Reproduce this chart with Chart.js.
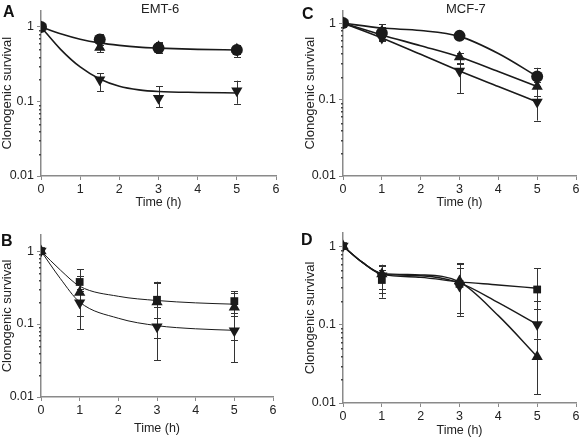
<!DOCTYPE html>
<html>
<head>
<meta charset="utf-8">
<script src="https://cdn.jsdelivr.net/npm/chart.js@4.4.1/dist/chart.umd.min.js"></script>
<style>
  body { margin: 0; background: #fff; font-family: "Liberation Sans", Arial, sans-serif; }
  #wrap { position: relative; width: 583px; height: 438px; }
  canvas { position: absolute; }
  .lbl { position: absolute; font-weight: bold; font-size: 16px; color: #111; }
  .ttl { position: absolute; font-size: 13px; color: #222; }
</style>
</head>
<body>
<div id="wrap">
  <canvas id="chartA" width="290" height="210" style="left:0;top:0"></canvas>
  <canvas id="chartC" width="293" height="210" style="left:290px;top:0"></canvas>
  <canvas id="chartB" width="290" height="223" style="left:0;top:215px"></canvas>
  <canvas id="chartD" width="293" height="223" style="left:290px;top:215px"></canvas>
  <div class="lbl" style="left:3px;top:3px">A</div>
  <div class="lbl" style="left:302px;top:5px">C</div>
  <div class="lbl" style="left:1px;top:232px">B</div>
  <div class="lbl" style="left:301px;top:231px">D</div>
  <div class="ttl" style="left:141px;top:1px">EMT-6</div>
  <div class="ttl" style="left:446px;top:1px">MCF-7</div>
</div>
<script>
// ---- tick labels ----
const xTicks = [0, 1, 2, 3, 4, 5, 6];
const yTickLabels = [0.01, 0.1, 1];

// ---- panel A: EMT-6 ----
const hoursA = [0, 1.5, 3, 5];
const emtCircle = [1.0, 0.68, 0.52, 0.49];
const emtCircleLo = [null, 0.57, 0.44, 0.39];
const emtCircleHi = [null, 0.80, 0.63, 0.57];
const emtTriangle = [1.0, 0.53, 0.54, 0.50];
const emtTriangleLo = [null, 0.46, 0.47, 0.43];
const emtTriangleHi = [null, 0.62, 0.60, 0.56];
const emtInverted = [1.0, 0.196, 0.11, 0.139];
const emtInvertedLo = [null, 0.138, 0.083, 0.093];
const emtInvertedHi = [null, 0.24, 0.16, 0.19];
const fitHoursA = [0, 0.5, 1, 1.5, 2, 2.5, 3, 4, 5];
const emtFitUpper = [1, 0.81, 0.685, 0.61, 0.565, 0.535, 0.52, 0.50, 0.49];
const emtFitLower = [1, 0.50, 0.29, 0.20, 0.16, 0.143, 0.136, 0.132, 0.13];

// ---- panel C: MCF-7 ----
const hoursC = [0, 1, 3, 5];
const mcfCircle = [1.0, 0.74, 0.68, 0.20];
const mcfCircleLo = [null, 0.60, 0.63, 0.15];
const mcfCircleHi = [null, 0.97, 0.74, 0.26];
const mcfTriangle = [1.0, 0.78, 0.36, 0.148];
const mcfTriangleLo = [null, 0.65, 0.30, 0.11];
const mcfTriangleHi = [null, 0.90, 0.41, 0.17];
const mcfInverted = [1.0, 0.64, 0.236, 0.093];
const mcfInvertedLo = [null, 0.58, 0.12, 0.053];
const mcfInvertedHi = [null, 0.70, 0.29, 0.11];
const fitHoursC = [0, 1, 2, 3, 4, 5];
const mcfFitCircle = [1, 0.86, 0.80, 0.67, 0.40, 0.20];
const mcfFitTriangle = [1, 0.70, 0.505, 0.36, 0.233, 0.148];
const mcfFitInverted = [1, 0.64, 0.39, 0.236, 0.148, 0.093];

// ---- panel B ----
const hoursB = [0, 1, 3, 5];
const bSquare = [1.0, 0.377, 0.215, 0.206];
const bSquareLo = [null, 0.28, 0.12, 0.14];
const bSquareHi = [null, 0.56, 0.38, 0.28];
const bTriangle = [1.0, 0.27, 0.20, 0.17];
const bTriangleLo = [null, 0.13, 0.065, 0.06];
const bTriangleHi = [null, 0.45, 0.36, 0.27];
const bInverted = [1.0, 0.195, 0.092, 0.081];
const bInvertedLo = [null, 0.085, 0.032, 0.03];
const bInvertedHi = [null, 0.30, 0.17, 0.13];
const fitHoursB = [0, 0.5, 1, 2, 3, 4, 5];
const bFitUpper = [1, 0.55, 0.33, 0.24, 0.21, 0.195, 0.187];
const bFitLower = [1, 0.42, 0.20, 0.12, 0.095, 0.086, 0.082];

// ---- panel D ----
const hoursD = [0, 1, 3, 5];
const dSquare = [1.0, 0.37, 0.33, 0.28];
const dSquareLo = [null, 0.25, 0.14, 0.16];
const dSquareHi = [null, 0.55, 0.60, 0.52];
const dTriangle = [1.0, 0.44, 0.36, 0.039];
const dTriangleLo = [null, 0.28, 0.13, 0.013];
const dTriangleHi = [null, 0.58, 0.52, 0.066];
const dInverted = [1.0, 0.42, 0.31, 0.10];
const dInvertedLo = [null, 0.22, 0.13, 0.066];
const dInvertedHi = [null, 0.50, 0.61, 0.20];
const fitHoursD = [0, 0.5, 1, 2, 3, 4, 5];
const dFitSquare = [1, 0.62, 0.44, 0.40, 0.35, 0.32, 0.29];
const dFitInverted = [1, 0.62, 0.44, 0.42, 0.34, 0.19, 0.10];
const dFitTriangle = [1, 0.62, 0.45, 0.43, 0.35, 0.13, 0.039];

const INK = '#1a1a1a';
const AXIS = '#8a8a8a';

function pts(xs, ys) {
  return xs.map((x, i) => ({ x: x, y: ys[i] }));
}

function markers(xs, ys, lo, hi, style, rot, r) {
  return {
    data: pts(xs, ys), errLo: lo, errHi: hi,
    showLine: false, pointStyle: style, rotation: rot || 0,
    pointRadius: r || 5, pointBackgroundColor: INK, pointBorderColor: INK, borderWidth: 0
  };
}

function fit(xs, ys, w) {
  return {
    data: pts(xs, ys), showLine: true, pointRadius: 0,
    borderColor: INK, borderWidth: w, cubicInterpolationMode: 'monotone'
  };
}

const errorBars = {
  id: 'errorBars',
  beforeDatasetsDraw(chart) {
    const { ctx, scales: { x, y } } = chart;
    ctx.save();
    ctx.strokeStyle = '#333';
    ctx.lineWidth = 1;
    chart.data.datasets.forEach(ds => {
      if (!ds.errLo) return;
      ds.data.forEach((p, j) => {
        if (ds.errLo[j] == null) return;
        const px = Math.round(x.getPixelForValue(p.x)) + 0.5;
        const y1 = y.getPixelForValue(ds.errLo[j]);
        const y2 = y.getPixelForValue(ds.errHi[j]);
        ctx.beginPath();
        ctx.moveTo(px, y1); ctx.lineTo(px, y2);
        ctx.moveTo(px - 3.5, Math.round(y1) + 0.5); ctx.lineTo(px + 3.5, Math.round(y1) + 0.5);
        ctx.moveTo(px - 3.5, Math.round(y2) + 0.5); ctx.lineTo(px + 3.5, Math.round(y2) + 0.5);
        ctx.stroke();
      });
    });
    ctx.restore();
  }
};

const minorDots = {
  id: 'minorDots',
  afterDraw(chart) {
    const { ctx, scales: { y } } = chart;
    ctx.save();
    ctx.fillStyle = '#444';
    y.ticks.forEach(t => {
      if (yTickLabels.includes(t.value)) return;
      const py = Math.round(y.getPixelForValue(t.value));
      ctx.fillRect(y.right - 2, py, 2, 1.5);
    });
    ctx.restore();
  }
};

function makePanel(id, datasets, p) {
  new Chart(document.getElementById(id), {
    type: 'line',
    data: { datasets: datasets },
    plugins: [errorBars, minorDots],
    options: {
      responsive: false,
      animation: false,
      devicePixelRatio: 1,
      layout: { padding: { top: p.top, right: p.right, left: 0, bottom: 0 } },
      plugins: { legend: { display: false }, tooltip: { enabled: false } },
      scales: {
        x: {
          type: 'linear', min: 0, max: 6,
          afterBuildTicks: s => { s.ticks = xTicks.map(v => ({ value: v })); },
          afterFit: s => { s.height = p.xh; },
          border: { color: AXIS, width: 1.5 },
          grid: { drawOnChartArea: false, color: AXIS, tickLength: 4 },
          ticks: { color: '#222', padding: 2, font: { family: 'Liberation Sans', size: 12.5 } },
          title: { display: true, text: 'Time (h)', color: '#222', padding: { bottom: p.xtp, top: 0 },
                   font: { family: 'Liberation Sans', size: 12.5 } }
        },
        y: {
          type: 'logarithmic', min: 0.01, max: p.ymax,
          afterBuildTicks: s => {
            const t = [];
            for (let d = 0.01; d < 1; d *= 10) {
              for (let k = 1; k < 10; k++) t.push({ value: +(d * k).toPrecision(3) });
            }
            t.push({ value: 1 });
            s.ticks = t;
          },
          afterFit: s => { s.width = p.yw; },
          border: { color: AXIS, width: 1.5 },
          grid: {
            drawOnChartArea: false, tickLength: 4,
            tickColor: c => yTickLabels.includes(c.tick.value) ? AXIS : 'rgba(0,0,0,0)'
          },
          ticks: {
            color: '#222', padding: 3, autoSkip: false,
            font: { family: 'Liberation Sans', size: 12.5 },
            callback: v => yTickLabels.includes(v) ? String(v) : ''
          },
          title: { display: true, text: 'Clonogenic survival', color: '#222', padding: { top: p.ytp, bottom: 0 },
                   font: { family: 'Liberation Sans', size: 13 } }
        }
      }
    }
  });
}

makePanel('chartA', [
  markers(hoursA, emtCircle, emtCircleLo, emtCircleHi, 'circle', 0, 6),
  markers(hoursA, emtTriangle, emtTriangleLo, emtTriangleHi, 'triangle', 0, 6.5),
  markers(hoursA, emtInverted, emtInvertedLo, emtInvertedHi, 'triangle', 180, 6.5),
  fit(fitHoursA, emtFitUpper, 1.6),
  fit(fitHoursA, emtFitLower, 1.6)
], { top: 5, right: 14, yw: 41, xh: 34, ymax: 1.66, ytp: 0, xtp: 0 });

makePanel('chartC', [
  markers(hoursC, mcfCircle, mcfCircleLo, mcfCircleHi, 'circle', 0, 6),
  markers(hoursC, mcfTriangle, mcfTriangleLo, mcfTriangleHi, 'triangle', 0, 6.5),
  markers(hoursC, mcfInverted, mcfInvertedLo, mcfInvertedHi, 'triangle', 180, 6.5),
  fit(fitHoursC, mcfFitCircle, 1.6),
  fit(fitHoursC, mcfFitTriangle, 1.6),
  fit(fitHoursC, mcfFitInverted, 1.6)
], { top: 6, right: 7, yw: 53, xh: 34, ymax: 1.46, ytp: 13, xtp: 0 });

makePanel('chartB', [
  markers(hoursB, bSquare, bSquareLo, bSquareHi, 'rect', 0, 5.5),
  markers(hoursB, bTriangle, bTriangleLo, bTriangleHi, 'triangle', 0, 6.5),
  markers(hoursB, bInverted, bInvertedLo, bInvertedHi, 'triangle', 180, 6.5),
  fit(fitHoursB, bFitUpper, 1),
  fit(fitHoursB, bFitLower, 1)
], { top: 20, right: 17, yw: 41, xh: 41, ymax: 1.66, ytp: 0, xtp: 2 });

makePanel('chartD', [
  markers(hoursD, dSquare, dSquareLo, dSquareHi, 'rect', 0, 5.5),
  markers(hoursD, dTriangle, dTriangleLo, dTriangleHi, 'triangle', 0, 6.5),
  markers(hoursD, dInverted, dInvertedLo, dInvertedHi, 'triangle', 180, 6.5),
  fit(fitHoursD, dFitSquare, 1.4),
  fit(fitHoursD, dFitInverted, 1.4),
  fit(fitHoursD, dFitTriangle, 1.4)
], { top: 18, right: 7, yw: 53, xh: 35, ymax: 1.47, ytp: 13, xtp: 0 });
</script>
</body>
</html>
